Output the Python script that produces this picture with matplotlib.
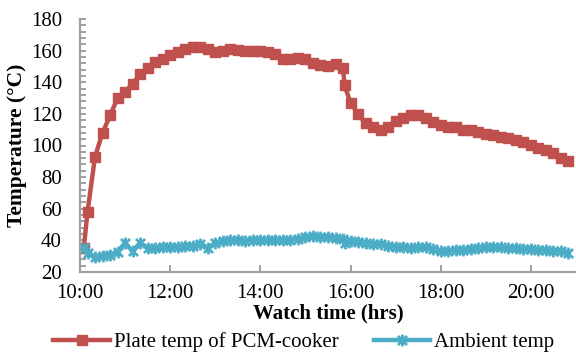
import matplotlib
matplotlib.use("Agg")
import matplotlib.pyplot as plt
from matplotlib.path import Path
from matplotlib.ticker import MultipleLocator, FuncFormatter

# readings, roughly every 10 minutes
times = ["10:05", "10:10", "10:20", "10:30", "10:40", "10:50",
         "11:00", "11:10", "11:20", "11:30", "11:40", "11:50",
         "12:00", "12:10", "12:20", "12:30", "12:40", "12:50",
         "13:00", "13:10", "13:20", "13:30", "13:40", "13:50",
         "14:00", "14:10", "14:20", "14:30", "14:40", "14:50",
         "15:00", "15:10", "15:20", "15:30", "15:40", "15:50", "15:52",
         "16:00", "16:10", "16:20", "16:30", "16:40", "16:50",
         "17:00", "17:10", "17:20", "17:30", "17:40", "17:50",
         "18:00", "18:10", "18:20", "18:30", "18:40", "18:50",
         "19:00", "19:10", "19:20", "19:30", "19:40", "19:50",
         "20:00", "20:10", "20:20", "20:30", "20:40", "20:50"]

plate_temp = [35, 58, 93, 108, 119, 130,
              134, 139, 145, 149, 153, 155,
              157, 159, 161, 162, 162, 161,
              159, 160, 161, 160.5, 159.5, 159.5,
              159.5, 159, 158, 155, 155, 155.5,
              154.5, 152, 151, 150, 151.5, 149, 138,
              127, 120, 114, 111.5, 110, 112,
              115.5, 117.5, 119.5, 119.5, 117.5, 115,
              113, 112, 111.5, 110, 110, 108.5,
              107.5, 106.5, 105.5, 104.5, 103.5, 102,
              100.5, 98.5, 97, 95, 92, 90]

ambient_temp = [35, 32, 29.5, 30, 31, 32.5,
                38.5, 33, 38.5, 35, 35, 35.5,
                35.5, 36, 36.5, 36.5, 38, 35,
                38.5, 39.5, 40, 40, 39.5, 40.5,
                40.5, 40, 40, 40, 40.5, 41,
                42, 42.5, 42, 42, 41.5, 41, 38.5,
                39.5, 39, 38.5, 38, 37.5, 36.5,
                36, 35.5, 35, 35.5, 35.5, 34.5,
                33, 33.5, 34, 34, 34.5, 35,
                35.5, 35.5, 35.5, 35, 35, 34.5,
                34.5, 34, 34, 33.5, 33, 32]

x_ticks = [10, 12, 14, 16, 18, 20]

hrs = [int(t[:2]) + int(t[3:]) / 60 for t in times]

RED = "#C0504D"
BLUE = "#4BACC6"
GRID = "#A0A0A0"

plt.rcParams["font.family"] = ["Liberation Serif", "DejaVu Serif"]

# excel style "star" marker: x with a vertical bar
star = Path([(-1, -1), (1, 1), (-1, 1), (1, -1), (0, -1.3), (0, 1.3)],
            [Path.MOVETO, Path.LINETO, Path.MOVETO, Path.LINETO, Path.MOVETO, Path.LINETO])

fig = plt.figure(figsize=(5.76, 3.55), dpi=100)
ax = fig.add_axes([80 / 576, 1 - 272 / 355, 496 / 576, 253 / 355])

ax.plot(hrs, plate_temp, color=RED, lw=3.2, marker="s", markersize=6.5,
        label="Plate temp of PCM-cooker")
ax.plot(hrs, ambient_temp, color=BLUE, lw=3.2, marker=star, markersize=8.5,
        markeredgewidth=2.0, label="Ambient temp")

ax.set_xlim(10, 21.0)
ax.set_ylim(20, 180)
ax.set_xticks(x_ticks)
ax.xaxis.set_major_formatter(FuncFormatter(lambda v, p: f"{int(v)}:00"))
ax.yaxis.set_major_locator(MultipleLocator(20))
ax.yaxis.set_minor_locator(MultipleLocator(4))

for s in ["top", "right"]:
    ax.spines[s].set_visible(False)
for s in ["left", "bottom"]:
    ax.spines[s].set_color(GRID)
    ax.spines[s].set_linewidth(1.6)

ax.tick_params(axis="x", which="major", direction="in", length=5, width=1.4,
               color=GRID, labelsize=15, pad=9)
ax.tick_params(axis="y", which="both", direction="in", length=4, width=1.4,
               color=GRID, labelsize=15, pad=13)

ax.set_xlabel("Watch time (hrs)", fontsize=15, fontweight="bold", labelpad=0)
ax.set_ylabel("Temperature (°C)", fontsize=15.5, fontweight="bold", labelpad=3)

fig.legend(loc="lower center", bbox_to_anchor=(304 / 576, -0.015), ncol=2,
           frameon=False, fontsize=15, handlelength=2.7, handletextpad=0.2,
           columnspacing=1.7, borderaxespad=0)

fig.savefig("out.png", dpi=100)
